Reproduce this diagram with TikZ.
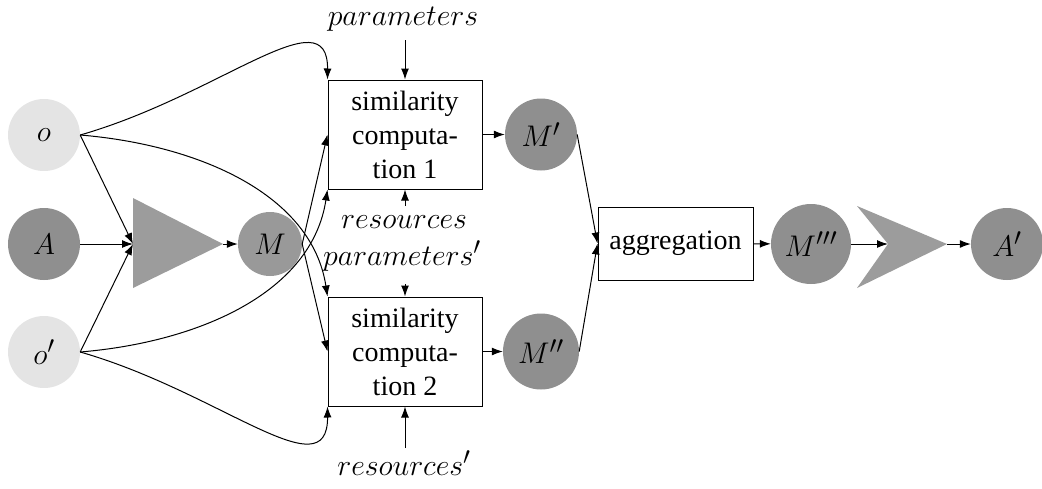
\documentclass[tikz,border=0pt]{standalone}
\usepackage{fontspec}
\setmainfont{Liberation Serif}
\usetikzlibrary{arrows.meta}
\definecolor{lightc}{HTML}{E4E4E4}
\definecolor{darkc}{HTML}{8F8F8F}
\definecolor{mc}{HTML}{999999}
\definecolor{tric}{HTML}{9C9C9C}
% math labels, enlarged beyond the largest fixed size of the math fonts
\newcommand{\mlab}[1]{\scalebox{1.2}{$#1$}}
\begin{document}
\begin{tikzpicture}[x=1pt,y=-1pt,
  every node/.style={font=\fontsize{28}{34}\selectfont},
  obj/.style={circle, fill=lightc, inner sep=0pt, minimum size=72pt},
  al/.style={circle, fill=darkc, inner sep=0pt},
  proc/.style={draw, line width=1pt, minimum width=154pt, minimum height=109pt,
    align=center, inner sep=0pt},
  lbl/.style={anchor=base, inner sep=0pt},
  link/.style={line width=1pt, -{Latex[length=11pt,width=8pt]}},
]
\useasboundingbox (0,0) rectangle (1042,488);

% input ontologies and alignment
\node[obj] (o) at (44,135) {\mlab{o}};
\node[al, minimum size=72pt] (A) at (44,244) {\mlab{A}};
\node[obj] (o2) at (44,352) {\mlab{o'}};

% first matcher
\fill[tric] (133,198) -- (223,244) -- (133,288) -- cycle;
\coordinate (tin) at (133,244);
\coordinate (tout) at (223,244);
\node[al, fill=mc, minimum size=64pt] (M) at (270,244) {\mlab{M}};

% similarity computations
\node[proc] (s1) at (405,134.5) {similarity\\computa-\\tion 1};
\node[proc] (s2) at (405,351.5) {similarity\\computa-\\tion 2};

\node[lbl] (p1) at (403,25) {\mlab{parameters}};
\node[lbl] (r1) at (404,228) {\mlab{resources}};
\node[lbl] (p2) at (402,265) {\mlab{parameters'}};
\node[lbl] (r2) at (404,475) {\mlab{resources'}};
\coordinate (p1a) at (405,40);
\coordinate (r1a) at (405,206);
\coordinate (p2a) at (405,284);
\coordinate (r2a) at (405,448);

% intermediate results, aggregation and final alignment
\node[al, minimum size=72pt] (M1) at (541,134.5) {\mlab{M'}};
\node[al, minimum size=76pt] (M2) at (541,351.5) {\mlab{M''}};
\node[proc, minimum width=155pt, minimum height=73pt] (ag) at (675.5,243.5) {aggregation};
\node[al, minimum size=80pt] (M3) at (811,244) {\mlab{M'''}};
\fill[tric] (857,206) -- (947,244) -- (857,288) -- (888,244) -- cycle;
\coordinate (chin) at (888,244);
\coordinate (chout) at (947,244);
\node[al, minimum size=72pt] (A2) at (1007,244) {\mlab{A'}};

% connectors
\draw[link] (o.east) -- (tin);
\draw[link] (A) -- (tin);
\draw[link] (o2.east) -- (tin);
\draw[link] (tout) -- (M);

\draw[link] (o.east) .. controls (220,95) and (328,-5) .. (s1.north west);
\draw[link] (o.east) .. controls (200,145) and (312,195) .. (s2.north west);
\draw[link] (o2.east) .. controls (200,342) and (312,292) .. (s1.south west);
\draw[link] (o2.east) .. controls (220,392) and (328,492) .. (s2.south west);
\draw[link] (M.east) -- (s1.west);
\draw[link] (M.east) -- (s2.west);

\draw[link] (p1a) -- (s1.north);
\draw[link] (r1a) -- (s1.south);
\draw[link] (p2a) -- (s2.north);
\draw[link] (r2a) -- (s2.south);

\draw[link] (s1) -- (M1);
\draw[link] (s2) -- (M2);
\draw[link] (M1.east) -- (ag.west);
\draw[link] (M2.east) -- (ag.west);
\draw[link] (ag) -- (M3);
\draw[link] (M3) -- (chin);
\draw[link] (chout) -- (A2);
\end{tikzpicture}
\end{document}
